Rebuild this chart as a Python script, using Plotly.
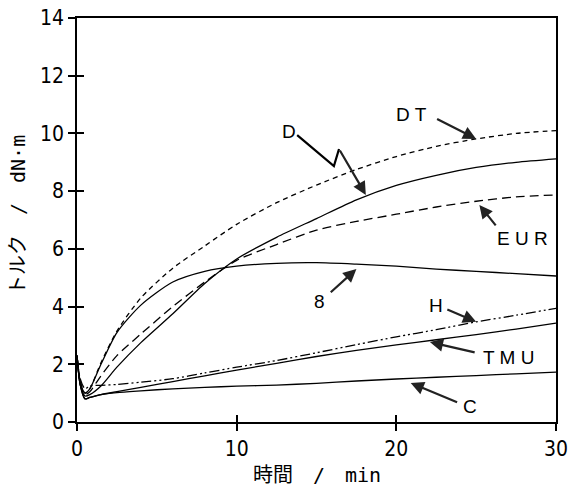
import plotly.graph_objects as go

# ---- data ----
time_min = [0, 0.2, 0.5, 0.8, 1.5, 2.5, 4, 6, 8, 10, 12.5, 15, 17.5, 20, 22.5, 25, 27.5, 30]

torque_DT  = [2.3, 1.4, 1.0, 1.15, 2.05, 3.15, 4.3, 5.33, 6.1, 6.85, 7.6, 8.21, 8.75, 9.2, 9.55, 9.81, 10.0, 10.1]
torque_D   = [2.3, 1.3, 0.9, 0.95, 1.25, 1.9, 2.75, 3.75, 4.8, 5.65, 6.4, 7.05, 7.7, 8.2, 8.55, 8.82, 9.0, 9.12]
torque_EUR = [2.3, 1.35, 0.95, 1.05, 1.6, 2.3, 3.05, 4.0, 4.85, 5.6, 6.15, 6.65, 6.95, 7.2, 7.45, 7.65, 7.8, 7.87]
torque_8   = [2.3, 1.4, 1.0, 1.15, 2.0, 3.1, 4.05, 4.85, 5.22, 5.4, 5.5, 5.52, 5.47, 5.4, 5.3, 5.22, 5.14, 5.06]
torque_H   = [2.3, 1.5, 1.15, 1.25, 1.27, 1.3, 1.38, 1.5, 1.7, 1.9, 2.13, 2.4, 2.68, 2.95, 3.2, 3.47, 3.7, 3.94]
torque_TMU = [2.3, 1.3, 0.8, 0.85, 0.95, 1.05, 1.2, 1.4, 1.6, 1.8, 2.03, 2.27, 2.48, 2.67, 2.85, 3.03, 3.22, 3.43]
torque_C   = [2.3, 1.3, 0.8, 0.85, 0.95, 1.02, 1.08, 1.15, 1.2, 1.24, 1.28, 1.34, 1.42, 1.49, 1.55, 1.61, 1.67, 1.73]

x_ticks = [0, 10, 20, 30]
y_ticks = [0, 2, 4, 6, 8, 10, 12, 14]
x_title = "時間　/　min"
y_title = "トルク　/　dN·m"

# labels: text, label position, arrow tail, arrow head (data units)
labels = [
    ("D T",   20.96, 10.64, 22.46, 10.53, 25.0, 9.81),
    ("E U R", 27.9,  6.37,  26.3,  6.76,  25.2, 7.52),
    ("8",     15.2,  4.16,  15.8,  4.45,  17.5, 5.30),
    ("H",     22.5,  4.05,  23.1,  3.92,  25.0, 3.47),
    ("T M U", 27.0,  2.25,  25.0,  2.40,  22.1, 2.77),
    ("C",     24.6,  0.52,  23.9,  0.66,  20.9, 1.35),
]
d_label = ("D", 13.29, 10.08)
d_zigzag_t = [13.79, 16.09, 16.41]
d_zigzag_v = [9.94, 8.87, 9.46]
d_head = (18.09, 7.87)

series = [
    (torque_DT, "DT", "5px,4px"),
    (torque_D, "D", "solid"),
    (torque_EUR, "EUR", "9px,5px"),
    (torque_8, "8", "solid"),
    (torque_H, "H", "10px,3px,2px,3px,2px,3px"),
    (torque_TMU, "TMU", "solid"),
    (torque_C, "C", "solid"),
]

fig = go.Figure()
for vals, name, dash in series:
    fig.add_trace(go.Scatter(
        x=time_min, y=vals, mode="lines", name=name,
        line=dict(color="black", width=1.3, dash=dash, shape="spline", smoothing=0.7),
        showlegend=False, hoverinfo="skip"))

# zigzag part of the D pointer
fig.add_trace(go.Scatter(x=d_zigzag_t, y=d_zigzag_v, mode="lines",
                         line=dict(color="black", width=2.2), showlegend=False,
                         hoverinfo="skip"))

lab_font = dict(family="Liberation Sans, Arial, sans-serif", size=19, color="black")
for text, tx, ty, ax, ay, hx, hy in labels:
    fig.add_annotation(x=tx, y=ty, text=text, showarrow=False, font=lab_font)
    fig.add_annotation(x=hx, y=hy, ax=ax, ay=ay, axref="x", ayref="y",
                       xref="x", yref="y", text="", showarrow=True,
                       arrowhead=2, arrowsize=1.2, arrowwidth=2.2, arrowcolor="#222")
fig.add_annotation(x=d_label[1], y=d_label[2], text=d_label[0], showarrow=False, font=lab_font)
fig.add_annotation(x=d_head[0], y=d_head[1], ax=d_zigzag_t[-1], ay=d_zigzag_v[-1],
                   axref="x", ayref="y", xref="x", yref="y", text="", showarrow=True,
                   arrowhead=2, arrowsize=1.2, arrowwidth=2.2, arrowcolor="#222")

title_font = dict(family="DejaVu Sans Mono, Noto Sans CJK JP", size=20, color="black")
fig.add_annotation(x=0.5, y=0, xref="paper", yref="paper", yshift=-53,
                   text=x_title, showarrow=False, font=title_font, yanchor="middle")
fig.add_annotation(x=0, y=0.5, xref="paper", yref="paper", xshift=-59, yshift=5,
                   text=y_title, showarrow=False, font=title_font, textangle=-90,
                   xanchor="center")

# invisible trace to activate overlay axes (inside ticks)
fig.add_trace(go.Scatter(x=[0], y=[0], xaxis="x2", yaxis="y2", mode="markers",
                         marker=dict(opacity=0), showlegend=False, hoverinfo="skip"))

tick_font = dict(family="Liberation Sans Narrow, DejaVu Sans Condensed, Liberation Sans",
                 size=21, color="black")

fig.update_layout(
    width=569, height=487,
    margin=dict(l=77, r=13, t=18, b=65),
    plot_bgcolor="white", paper_bgcolor="white",
    xaxis=dict(range=[0, 30], tickvals=x_ticks, ticks="outside", ticklen=7,
               tickwidth=1.5, tickcolor="black", showgrid=False, zeroline=False,
               showline=True, linecolor="black", linewidth=1.5, mirror=True,
               tickfont=tick_font, automargin=False, ticklabeloverflow="allow"),
    yaxis=dict(range=[0, 14], tickvals=y_ticks, ticks="outside", ticklen=7,
               tickwidth=1.5, tickcolor="black", showgrid=False, zeroline=False,
               showline=True, linecolor="black", linewidth=1.5, mirror=True,
               tickfont=tick_font, automargin=False, ticklabeloverflow="allow"),
    xaxis2=dict(range=[0, 30], tickvals=x_ticks, ticks="inside", ticklen=7,
                tickwidth=1.5, tickcolor="black", showticklabels=False,
                showgrid=False, zeroline=False, overlaying="x", side="bottom"),
    yaxis2=dict(range=[0, 14], tickvals=y_ticks, ticks="inside", ticklen=7,
                tickwidth=1.5, tickcolor="black", showticklabels=False,
                showgrid=False, zeroline=False, overlaying="y", side="left"),
)

fig.write_html("out.html", config={"displayModeBar": False},
               post_script="document.body.style.margin='0';document.body.style.overflow='hidden';")
